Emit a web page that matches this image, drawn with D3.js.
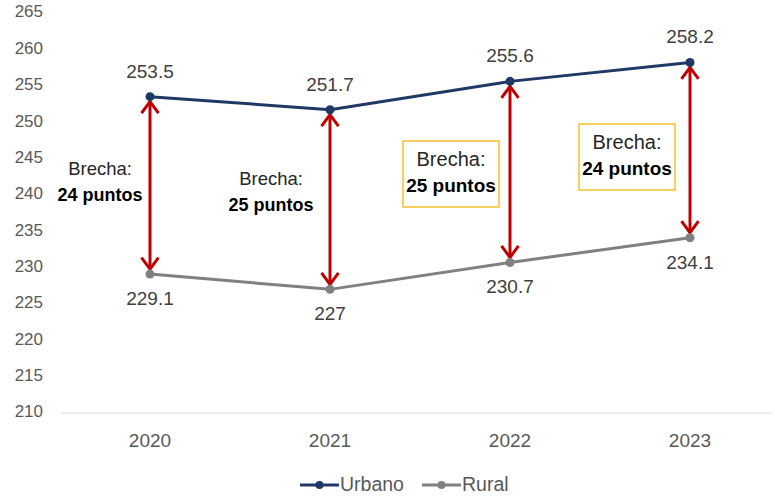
<!DOCTYPE html>
<html>
<head>
<meta charset="utf-8">
<script src="https://cdn.jsdelivr.net/npm/d3@7"></script>
<style>
	body { margin: 0; background: #fff; }
	text { font-family: "Liberation Sans", Arial, sans-serif; }
</style>
</head>
<body>
<div id="chart"></div>
<script>
// data
var years = ["2020", "2021", "2022", "2023"];
var urbano = [253.5, 251.7, 255.6, 258.2];
var rural = [229.1, 227, 230.7, 234.1];
var gapLabels = ["24 puntos", "25 puntos", "25 puntos", "24 puntos"];
var gapBoxed = [false, false, true, true];
var yTicks = [210, 215, 220, 225, 230, 235, 240, 245, 250, 255, 260, 265];

// settings
var svgWidth = 775;
var svgHeight = 498;
var urbanoColor = "#1f3864";
var ruralColor = "#808080";
var arrowColor = "#c00000";
var boxColor = "#f9bf2c";

var svg = d3.select("#chart")
	.append("svg")
	.attr("width", svgWidth)
	.attr("height", svgHeight);

var x = d3.scaleBand()
	.domain(years)
	.range([60, 780]);

var y = d3.scaleLinear()
	.domain([210, 265])
	.range([413, 13]);

var cx = d => x(d) + x.bandwidth() / 2;

// y tick labels (no axis line)
svg.append("g")
	.selectAll("text")
	.data(yTicks)
	.enter()
	.append("text")
	.attr("x", 43)
	.attr("y", d => y(d))
	.attr("text-anchor", "end")
	.attr("dominant-baseline", "middle")
	.attr("font-size", "17px")
	.attr("fill", "#595959")
	.text(d => d);

// x axis baseline
svg.append("line")
	.attr("x1", 61)
	.attr("x2", 772)
	.attr("y1", y(210))
	.attr("y2", y(210))
	.attr("stroke", "#d9d9d9")
	.attr("stroke-width", 1.2);

svg.append("g")
	.selectAll("text")
	.data(years)
	.enter()
	.append("text")
	.attr("x", d => cx(d))
	.attr("y", 442)
	.attr("text-anchor", "middle")
	.attr("dominant-baseline", "middle")
	.attr("font-size", "19px")
	.attr("fill", "#595959")
	.text(d => d);

// arrows
var defs = svg.append("defs");
["arrowEnd", "arrowStart"].forEach(function (id, i) {
	defs.append("marker")
		.attr("id", id)
		.attr("viewBox", "0 0 14 20")
		.attr("refX", 12.5)
		.attr("refY", 10)
		.attr("markerWidth", 14)
		.attr("markerHeight", 20)
		.attr("markerUnits", "userSpaceOnUse")
		.attr("orient", i === 0 ? "auto" : "auto-start-reverse")
		.append("path")
		.attr("d", "M1,1.5 L12.5,10 L1,18.5")
		.attr("fill", "none")
		.attr("stroke", arrowColor)
		.attr("stroke-width", 3);
});

svg.append("g")
	.selectAll("line")
	.data(years)
	.enter()
	.append("line")
	.attr("x1", d => cx(d))
	.attr("x2", d => cx(d))
	.attr("y1", (d, i) => y(urbano[i]) + 5)
	.attr("y2", (d, i) => y(rural[i]) - 5)
	.attr("stroke", arrowColor)
	.attr("stroke-width", 3)
	.attr("marker-start", "url(#arrowStart)")
	.attr("marker-end", "url(#arrowEnd)");

// lines
function drawSeries(values, color, labelOffset) {
	var line = d3.line()
		.x((d, i) => cx(years[i]))
		.y(d => y(d));
	svg.append("path")
		.datum(values)
		.attr("d", line)
		.attr("fill", "none")
		.attr("stroke", color)
		.attr("stroke-width", 3);
	svg.append("g")
		.selectAll("circle")
		.data(values)
		.enter()
		.append("circle")
		.attr("cx", (d, i) => cx(years[i]))
		.attr("cy", d => y(d))
		.attr("r", 4.5)
		.attr("fill", color);
	svg.append("g")
		.selectAll("text")
		.data(values)
		.enter()
		.append("text")
		.attr("x", (d, i) => cx(years[i]))
		.attr("y", d => y(d) + labelOffset)
		.attr("text-anchor", "middle")
		.attr("dominant-baseline", "middle")
		.attr("font-size", "19px")
		.attr("fill", "#404040")
		.text(d => d);
}
drawSeries(rural, ruralColor, 26);
drawSeries(urbano, urbanoColor, -24);

// gap annotations
var annPos = [
	{ x: 100, y: 170 },
	{ x: 271, y: 180 },
	{ x: 451, y: 161 },
	{ x: 627, y: 144 }
];
years.forEach(function (yr, i) {
	var g = svg.append("g")
		.attr("transform", `translate(${annPos[i].x}, ${annPos[i].y})`);
	if (gapBoxed[i])
		g.append("rect")
			.attr("x", -48)
			.attr("y", -20)
			.attr("width", 96)
			.attr("height", 66)
			.attr("fill", "#fff")
			.attr("stroke", boxColor)
			.attr("stroke-width", 1.5);
	g.append("text")
		.attr("text-anchor", "middle")
		.attr("dominant-baseline", "middle")
		.attr("font-size", gapBoxed[i] ? "20px" : "18.5px")
		.attr("fill", "#262626")
		.text("Brecha:");
	g.append("text")
		.attr("y", 26)
		.attr("text-anchor", "middle")
		.attr("dominant-baseline", "middle")
		.attr("font-size", gapBoxed[i] ? "19px" : "18px")
		.attr("font-weight", "bold")
		.attr("fill", "#000")
		.text(gapLabels[i]);
});

// legend
var legend = [
	{ name: "Urbano", color: urbanoColor, x: 300 },
	{ name: "Rural", color: ruralColor, x: 422 }
];
legend.forEach(function (l) {
	svg.append("line")
		.attr("x1", l.x)
		.attr("x2", l.x + 39)
		.attr("y1", 485)
		.attr("y2", 485)
		.attr("stroke", l.color)
		.attr("stroke-width", 3);
	svg.append("circle")
		.attr("cx", l.x + 19.5)
		.attr("cy", 485)
		.attr("r", 4)
		.attr("fill", l.color);
	svg.append("text")
		.attr("x", l.x + 40)
		.attr("y", 486)
		.attr("dominant-baseline", "middle")
		.attr("font-size", "19.5px")
		.attr("fill", "#595959")
		.text(l.name);
});
</script>
</body>
</html>
